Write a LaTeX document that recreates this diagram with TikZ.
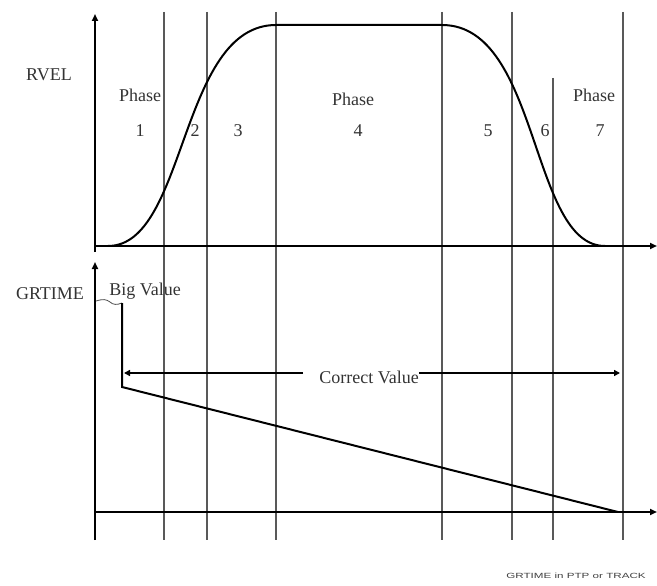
\documentclass[tikz,border=0pt]{standalone}
\usepackage{fontspec}
\setmainfont{Liberation Serif}
\newfontfamily\smallsans{Liberation Sans}
\usetikzlibrary{arrows.meta}
\begin{document}
\begin{tikzpicture}[x=1pt,y=-1pt,
  axis/.style={line width=2.6pt,black,-{Triangle[length=7pt,width=6pt]}},
  grid/.style={line width=2pt,black!65},
  curve/.style={line width=2pt,black},
  dimarrow/.style={line width=2.2pt,black,-{Triangle[length=6pt,width=6pt]}},
  lbl/.style={font=\fontsize{18}{18}\selectfont,inner sep=0pt,text=black!80}]
\useasboundingbox (0,0) rectangle (657,586);
% vertical phase boundaries
\foreach \x in {164,207,276,442,512,623}{
  \draw[grid] (\x,12) -- (\x,540);
}
\draw[grid] (553,78) -- (553,540);
% axes
\draw[axis] (95,252) -- (95,14);
\draw[axis] (95,540) -- (95,262);
\draw[axis] (95,246) -- (657,246);
\draw[axis] (95,512) -- (657,512);
% velocity profile
\draw[curve] (108,246) .. controls (187,246) and (179,25) .. (276,25)
  -- (442,25) .. controls (540,25) and (530,246) .. (605,246);
% labels upper
\node[lbl] (rvel) at (49,75) {RVEL};
\node[lbl] (ph1) at (140,95) {Phase};
\node[lbl] (n1) at (140,131) {1};
\node[lbl] (n2) at (195,131) {2};
\node[lbl] (n3) at (238,131) {3};
\node[lbl] (ph4) at (353,99) {Phase};
\node[lbl] (n4) at (358,131) {4};
\node[lbl] (n5) at (488,131) {5};
\node[lbl] (n6) at (545,131) {6};
\node[lbl] (ph7) at (594,95) {Phase};
\node[lbl] (n7) at (600,131) {7};
% lower plot
\node[lbl] (grt) at (50,294) {GRTIME};
\node[lbl] (big) at (145,291) {Big Value};
\coordinate (s0) at (96,301);
\coordinate (top) at (122,303);
\coordinate (knee) at (122,387);
\coordinate (end) at (618,512);
\draw[line width=0.8pt,black!70] (s0) .. controls (103,299) and (106,299) .. (110,302) .. controls (113,305) and (117,305) .. (top);
\draw[curve] (top) -- (knee) -- (end);
\node[lbl] (cv) at (369,377) {Correct Value};
\coordinate (cl) at (124,373);
\coordinate (cr) at (620,373);
\draw[dimarrow] (303,373) -- (cl);
\draw[dimarrow] (419,373) -- (cr);
\node[inner sep=0pt,text=black!75] (note) at (576,576) {\smallsans\fontsize{7.5}{7.5}\selectfont\scalebox{1.55}[1]{GRTIME in PTP or TRACK}};
\end{tikzpicture}
\end{document}
